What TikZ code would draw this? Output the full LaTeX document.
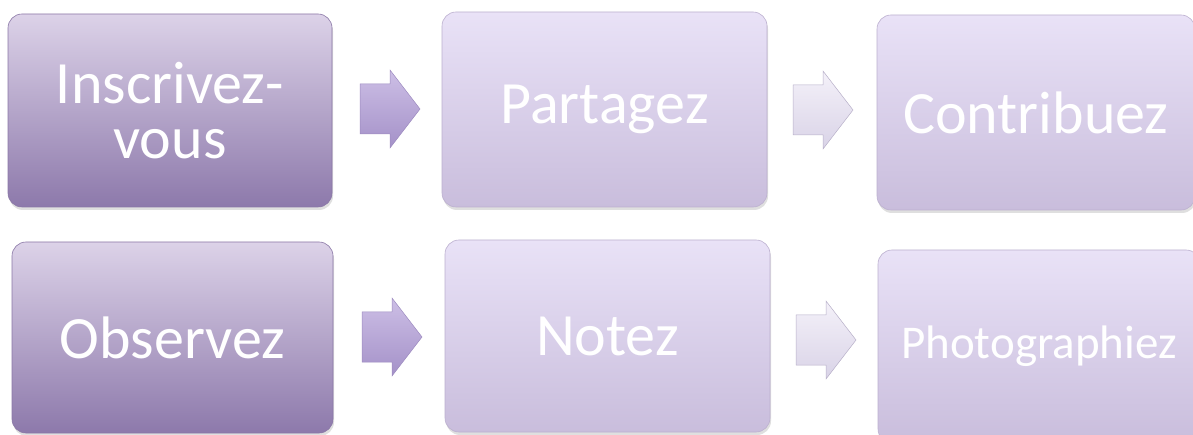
\documentclass[tikz,border=0pt]{standalone}
\usepackage{fontspec}
\setmainfont{Carlito}
\usetikzlibrary{shadows}
\definecolor{dtop}{HTML}{DCD2E8}
\definecolor{dbot}{HTML}{8D79AB}
\definecolor{dedge}{HTML}{8A77A6}
\definecolor{ltop}{HTML}{E9E2F7}
\definecolor{lbot}{HTML}{C9BDDC}
\definecolor{ledge}{HTML}{BCB0CF}
\definecolor{aptop}{HTML}{CDBFE6}
\definecolor{apbot}{HTML}{A491C8}
\definecolor{apedge}{HTML}{9C8ABF}
\definecolor{altop}{HTML}{F4F1F9}
\definecolor{albot}{HTML}{D9D3E7}
\definecolor{aledge}{HTML}{B7AFC8}
\begin{document}
\begin{tikzpicture}[x=1pt,y=1pt,
  boxbase/.style={rectangle, rounded corners=14pt, draw=#1, line width=0.6pt,
    text=white, align=center, inner sep=0pt,
    font=\fontsize{60}{55}\selectfont,
    drop shadow={opacity=0.25, shadow xshift=1pt, shadow yshift=-3pt}},
  darkbox/.style={boxbase=dedge, top color=dtop, bottom color=dbot},
  lightbox/.style={boxbase=ledge, top color=ltop, bottom color=lbot},
  blockarrow/.pic={\path[pic actions] (-30,-25) -- (0,-25) -- (0,-39) -- (30,0) -- (0,39) -- (0,25) -- (-30,25) -- cycle;},
  purplearrow/.style={top color=aptop, bottom color=apbot, draw=apedge, line width=0.5pt},
  palearrow/.style={top color=altop, bottom color=albot, draw=aledge, line width=0.5pt}
]
\useasboundingbox (0,0) rectangle (1193,-435);
\begin{scope}
\clip (0,0) rectangle (1193,-435);
\node[darkbox, minimum width=324pt, minimum height=193pt] (b1) at (170,-110.5) {Inscrivez-\\vous};
\node[lightbox, minimum width=325pt, minimum height=195pt] (b2) at (604.5,-109.5) {Partagez};
\node[lightbox, minimum width=318pt, minimum height=195pt] (b3) at (1036,-112.5) {Contribuez};
\node[darkbox, minimum width=321pt, minimum height=191pt] (b4) at (172.5,-337.5) {Observez};
\node[lightbox, minimum width=325pt, minimum height=192pt] (b5) at (607.5,-336) {Notez};
\node[lightbox, minimum width=322pt, minimum height=193pt, font=\fontsize{47}{47}\selectfont] (b6) at (1039,-346.5) {Photographiez};
\end{scope}
\pic[purplearrow] (a1) at (390,-109) {blockarrow};
\pic[palearrow] (a2) at (823,-110) {blockarrow};
\pic[purplearrow] (a3) at (392,-337) {blockarrow};
\pic[palearrow] (a4) at (826,-340) {blockarrow};
\end{tikzpicture}
\end{document}
